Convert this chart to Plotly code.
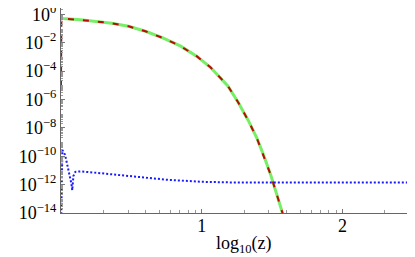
import numpy as np
import plotly.graph_objects as go

# values (log10 of z, log10 of y)
red_logz = [0.0, 0.003, 0.017, 0.139, 0.236, 0.36, 0.48, 0.60, 0.723, 0.85, 0.966,
            1.063, 1.185, 1.258, 1.331, 1.392, 1.44, 1.489, 1.575, 1.60]
red_logy = [-5.1, -0.28, -0.30, -0.38, -0.49, -0.64, -0.85, -1.2, -1.67, -2.25, -2.97,
            -3.75, -5.05, -6.2, -7.5, -8.75, -9.95, -11.3, -14.06, -14.9]

green_logz = red_logz[1:]
green_logy = red_logy[1:]

blue_logz = [0.0, 0.0095, 0.029, 0.051, 0.073, 0.080, 0.088, 0.102, 0.139, 0.285,
             0.504, 0.745, 0.99, 1.23, 2.5]
blue_logy = [-15.5, -9.56, -9.9, -10.8, -11.9, -12.4, -11.4, -11.1, -11.07, -11.2,
             -11.4, -11.65, -11.8, -11.85, -11.85]

ytick_exp = [0, -2, -4, -6, -8, -10, -12, -14]
xtick_vals = [10, 100]
xtick_text = ["1", "2"]


def pw(a):
    return [10 ** v for v in a]


fig = go.Figure()
fig.add_trace(go.Scatter(x=pw(green_logz), y=pw(green_logy), mode="lines",
                         line=dict(color="#77ee66", width=3)))
fig.add_trace(go.Scatter(x=pw(red_logz), y=pw(red_logy), mode="lines",
                         line=dict(color="#bb0a0a", width=2, dash="6px,9px")))
fig.add_trace(go.Scatter(x=pw(blue_logz), y=pw(blue_logy), mode="lines",
                         line=dict(color="#1a1aff", width=2, dash="2px,2px")))

font = dict(family="Times New Roman, Liberation Serif, serif", size=18, color="black")

# the page puts the figure 8px in from the top-left, so the figure is sized to the rest
fig.update_layout(
    width=407, height=249,
    margin=dict(l=53, r=2, t=0, b=44),
    showlegend=False,
    plot_bgcolor="white", paper_bgcolor="white",
    font=font,
)
fig.update_xaxes(
    type="log", range=[0, 2.5], automargin=False,
    tickvals=xtick_vals, ticktext=xtick_text,
    ticks="inside", ticklen=4, tickcolor="#777",
    minor=dict(ticks="inside", ticklen=3, tickcolor="#999",
               tickvals=[2, 3, 4, 5, 6, 7, 8, 9, 20, 30, 40, 50, 60, 70, 80, 90, 200, 300]),
    showgrid=False, zeroline=False,
    showline=True, linecolor="#666", linewidth=1,
    tickfont=font, ticklabeloverflow="allow", ticklabelstandoff=-4,
)
fig.update_yaxes(
    type="log", range=[-14, 0.44], automargin=False,
    tickvals=[10 ** e for e in ytick_exp],
    ticktext=["10<sup>%s</sup>" % (str(e).replace("-", "\u2212")) for e in ytick_exp],
    ticks="inside", ticklen=4, tickcolor="#777",
    minor=dict(ticks="inside", ticklen=2, tickcolor="#999",
               tickvals=[m * 10 ** e for e in range(-15, 1) for m in range(2, 10)]),
    showgrid=False, zeroline=False,
    showline=True, linecolor="#666", linewidth=1,
    tickfont=font, ticklabeloverflow="allow",
)
# x title as an annotation so it sits where the reference has it
fig.add_annotation(text="log<sub>10</sub>(z)", xref="paper", yref="paper",
                   x=0.52, y=0, yshift=-31, yanchor="middle", showarrow=False, font=font)
# lighter frame on the right
fig.add_shape(type="line", xref="paper", yref="paper", x0=1, x1=1, y0=0, y1=1,
              line=dict(color="#aaa", width=1.5))

fig.write_html("out.html")
